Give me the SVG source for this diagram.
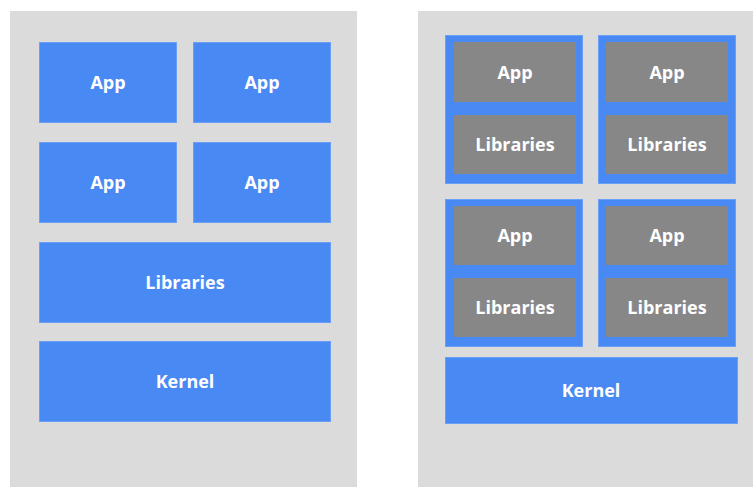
<svg xmlns="http://www.w3.org/2000/svg" width="753" height="487" viewBox="0 0 753 487">
<style>
.panel{fill:#dbdbdb}
.blue{fill:#4889f4;stroke:#6a9ff6;stroke-width:1}
.gray{fill:#878787}
.lbl{font-family:"Open Sans","Liberation Sans",sans-serif;font-weight:bold;font-size:18px;fill:#ffffff;text-anchor:middle}
</style>
<rect width="753" height="487" fill="#ffffff"/>
<g id="vm-panel">
<rect class="panel" x="10" y="11" width="347" height="476"/>
</g>
<g id="app-l1"><rect class="blue" x="39.5" y="42.5" width="137" height="80"/><text class="lbl" x="108" y="89">App</text></g>
<g id="app-l2"><rect class="blue" x="193.5" y="42.5" width="137" height="80"/><text class="lbl" x="262" y="89">App</text></g>
<g id="app-l3"><rect class="blue" x="39.5" y="142.5" width="137" height="80"/><text class="lbl" x="108" y="189">App</text></g>
<g id="app-l4"><rect class="blue" x="193.5" y="142.5" width="137" height="80"/><text class="lbl" x="262" y="189">App</text></g>
<g id="libs-l"><rect class="blue" x="39.5" y="242.5" width="291" height="80"/><text class="lbl" x="185" y="289">Libraries</text></g>
<g id="kernel-l"><rect class="blue" x="39.5" y="341.5" width="291" height="80"/><text class="lbl" x="185" y="388">Kernel</text></g>

<g id="container-panel">
<rect class="panel" x="418" y="11" width="335" height="476"/>
</g>
<g id="c1">
<rect class="blue" x="445.5" y="35.5" width="137" height="148"/>
<rect class="gray" x="454" y="42" width="122" height="60"/><text class="lbl" x="515" y="79">App</text>
<rect class="gray" x="454" y="115" width="122" height="59"/><text class="lbl" x="515" y="151">Libraries</text>
</g>
<g id="c2">
<rect class="blue" x="598.5" y="35.5" width="137" height="148"/>
<rect class="gray" x="606" y="42" width="122" height="60"/><text class="lbl" x="667" y="79">App</text>
<rect class="gray" x="606" y="115" width="122" height="59"/><text class="lbl" x="667" y="151">Libraries</text>
</g>
<g id="c3">
<rect class="blue" x="445.5" y="199.5" width="137" height="147"/>
<rect class="gray" x="454" y="206" width="122" height="59"/><text class="lbl" x="515" y="242">App</text>
<rect class="gray" x="454" y="278" width="122" height="59"/><text class="lbl" x="515" y="314">Libraries</text>
</g>
<g id="c4">
<rect class="blue" x="598.5" y="199.5" width="137" height="147"/>
<rect class="gray" x="606" y="206" width="122" height="59"/><text class="lbl" x="667" y="242">App</text>
<rect class="gray" x="606" y="278" width="122" height="59"/><text class="lbl" x="667" y="314">Libraries</text>
</g>
<g id="kernel-r"><rect class="blue" x="445.5" y="357.5" width="292" height="66"/><text class="lbl" x="591" y="397">Kernel</text></g>
<g id="connectors"></g>
</svg>
